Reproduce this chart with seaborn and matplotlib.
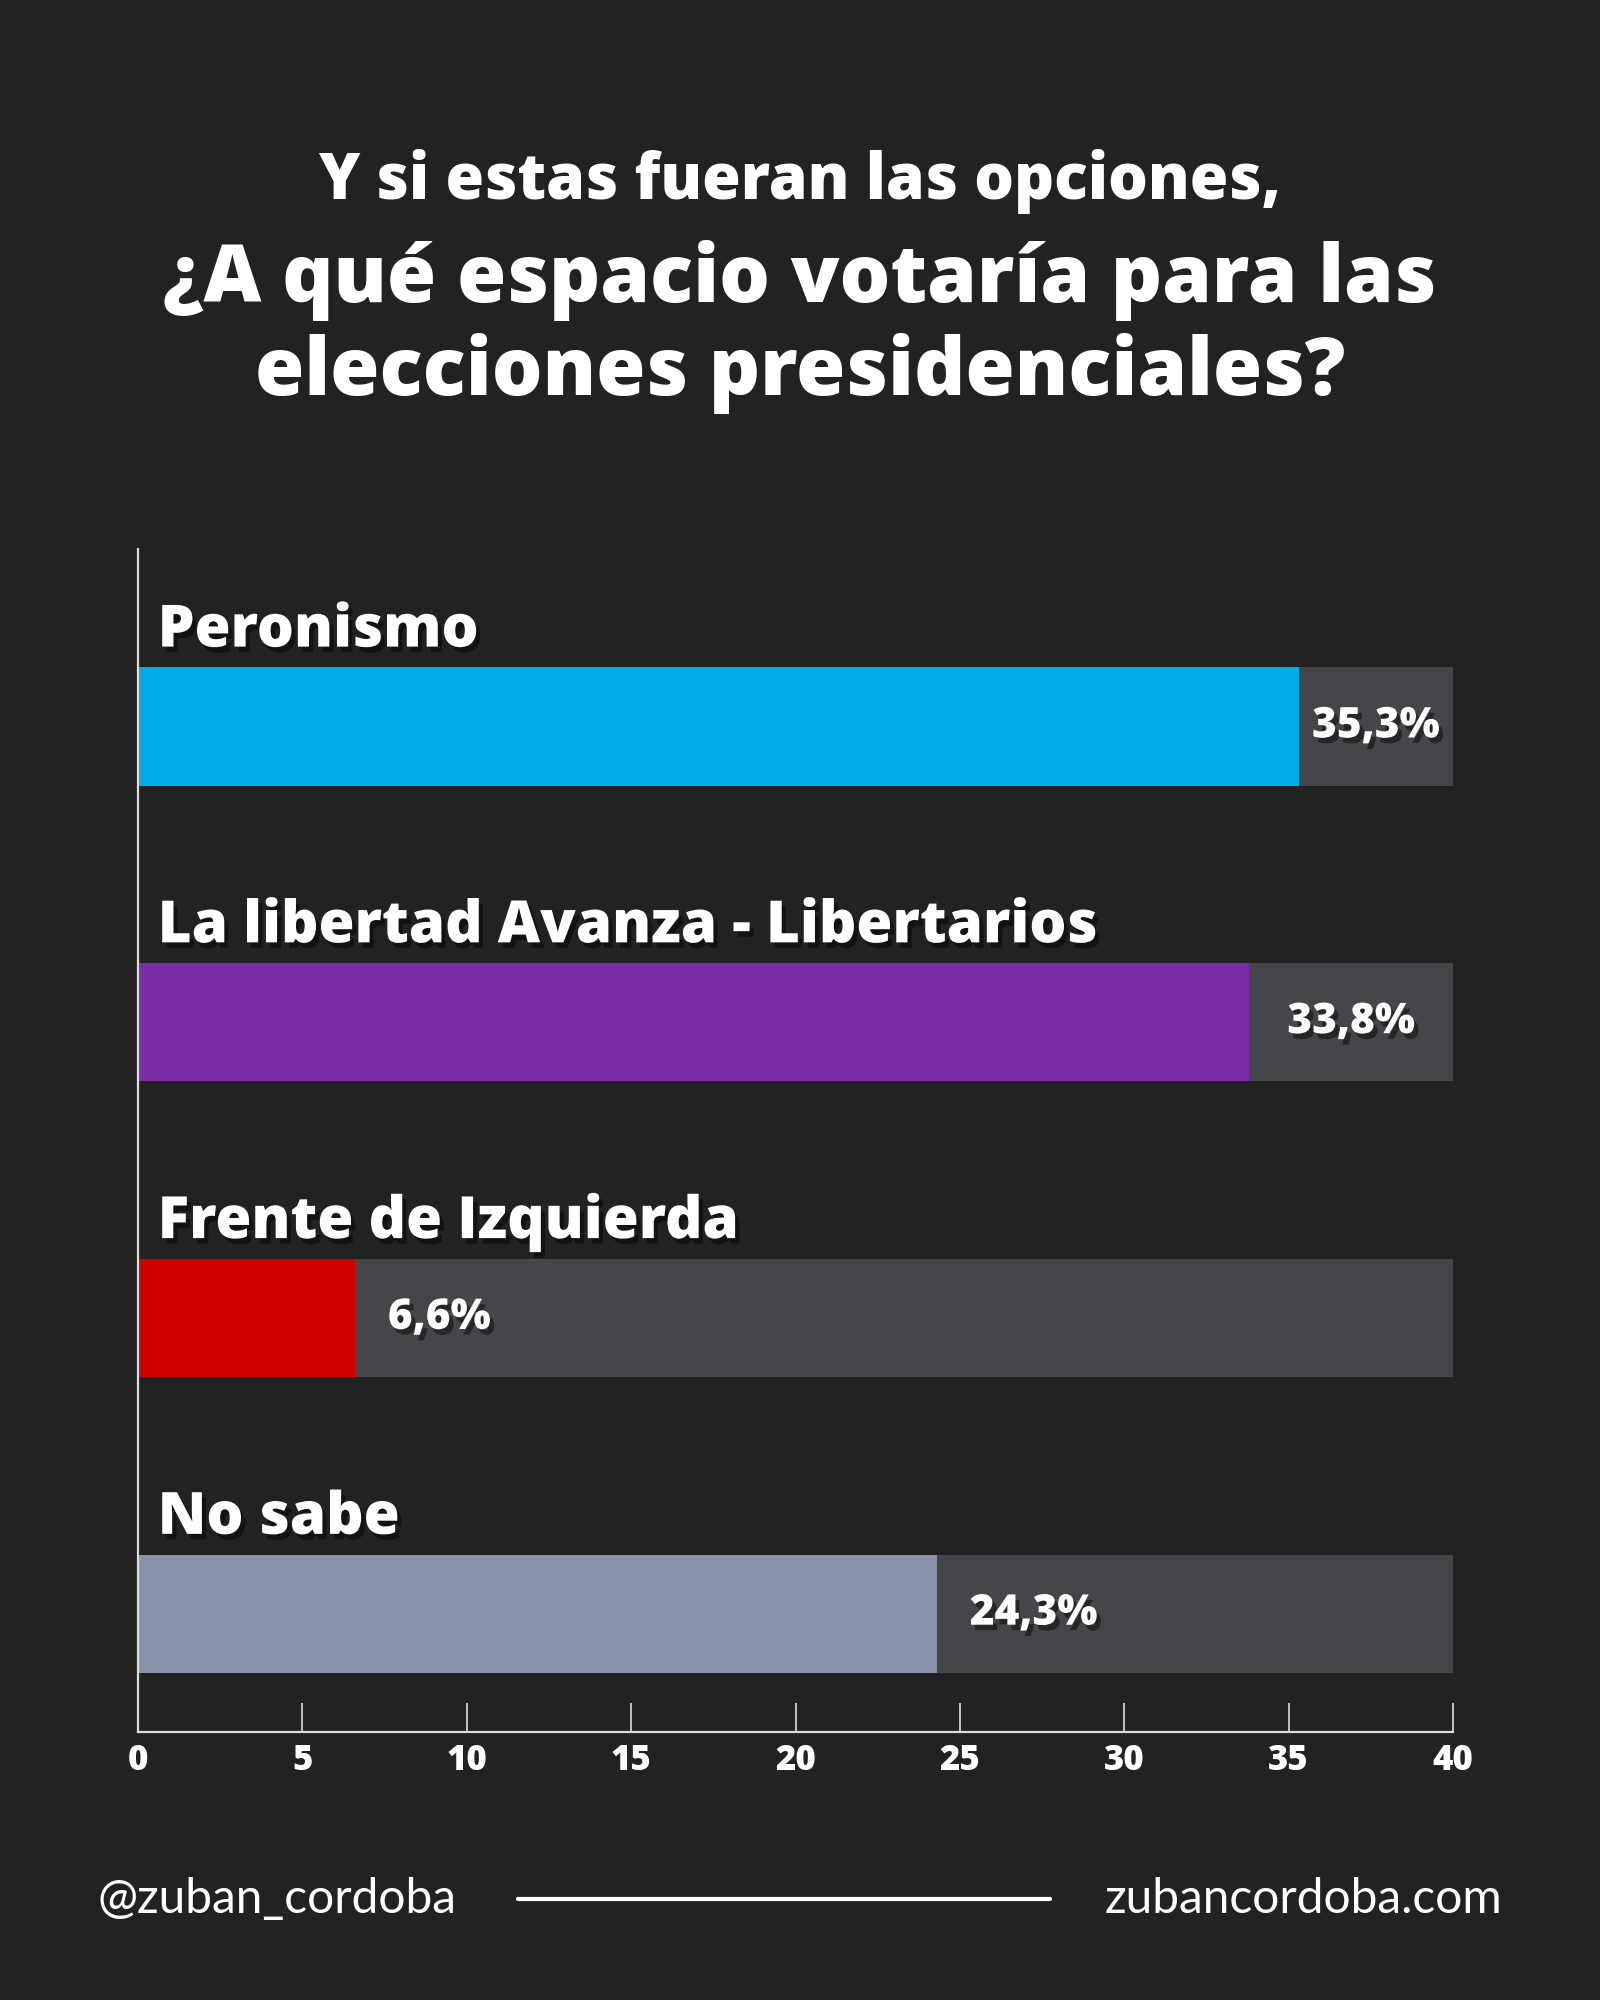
import matplotlib
matplotlib.use("Agg")
import matplotlib.pyplot as plt
import matplotlib.patheffects as pe
import seaborn as sns
import pandas as pd

categories = ["Peronismo", "La libertad Avanza - Libertarios", "Frente de Izquierda", "No sabe"]
values = [35.3, 33.8, 6.6, 24.3]
value_labels = ["35,3%", "33,8%", "6,6%", "24,3%"]
bar_colors = ["#00ADE6", "#7A2BA6", "#D10000", "#8A93A9"]
axis_max = 40
xticks = [0, 5, 10, 15, 20, 25, 30, 35, 40]
title_line1 = "Y si estas fueran las opciones,"
title_line2 = "¿A qué espacio votaría para las\nelecciones presidenciales?"
footer_left = "@zuban_cordoba"
footer_right = "zubancordoba.com"

BG = "#222222"
TRACK = "#45464A"
HEAD = ["Open Sans", "DejaVu Sans"]
BODY = ["Lato", "DejaVu Sans"]
HEAVY = 800

sns.set_theme(style="white")
plt.rcParams["font.family"] = HEAD

df = pd.DataFrame({"cat": categories, "val": values, "full": [axis_max] * len(categories)})

fig = plt.figure(figsize=(16, 20), dpi=100, facecolor=BG)
ax = fig.add_axes([0.08625, 0.134, 0.8219, 0.5915])
ax.set_facecolor(BG)

sns.barplot(data=df, x="full", y="cat", orient="h", color=TRACK, width=0.4,
            saturation=1, linewidth=0, ax=ax)
sns.barplot(data=df, x="val", y="cat", orient="h", hue="cat", palette=bar_colors,
            width=0.4, saturation=1, legend=False, linewidth=0, ax=ax)

ax.set_xlim(0, axis_max)
ax.set_ylim(len(categories) - 0.6, -0.6)
ax.set_xlabel("")
ax.set_ylabel("")
ax.set_yticks([])
ax.set_xticks(xticks)
ax.set_xticklabels([str(t) for t in xticks])

for s in ["top", "right"]:
    ax.spines[s].set_visible(False)
for s in ["left", "bottom"]:
    ax.spines[s].set_color("#DDDDDD")
    ax.spines[s].set_linewidth(1.6)
ax.tick_params(axis="x", direction="in", length=21, width=1.2, color="#DDDDDD",
               labelcolor="white", labelsize=25, pad=8)
for lbl in ax.get_xticklabels():
    lbl.set_fontweight(HEAVY)
ax.tick_params(axis="x", bottom=True)

shadow = [pe.withSimplePatchShadow(offset=(3, -4), shadow_rgbFace="black", alpha=0.45)]

for i, (cat, v, lab) in enumerate(zip(categories, values, value_labels)):
    ax.text(0.6, i - 0.27, cat, ha="left", va="baseline", color="white",
            fontsize=42, fontweight=HEAVY, path_effects=shadow)
    remainder = axis_max - v
    if remainder < 8:
        x = v + remainder / 2
        ha = "center"
    else:
        x = v + 1.0
        ha = "left"
    ax.text(x, i, lab, ha=ha, va="center", color="white", fontsize=30.5,
            fontweight=HEAVY, path_effects=shadow)

fig.text(0.5, 0.9095, title_line1, ha="center", va="center", color="white",
         fontsize=45, fontweight=HEAVY)
fig.text(0.5, 0.8365, title_line2, ha="center", va="center", color="white",
         fontsize=57.5, fontweight=HEAVY, linespacing=1.18)

fig.text(0.061, 0.0505, footer_left, ha="left", va="center", color="white",
         fontsize=34.5, family=BODY)
fig.text(0.939, 0.0505, footer_right, ha="right", va="center", color="white",
         fontsize=34.5, family=BODY)
fig.add_artist(plt.Line2D([0.324, 0.656], [0.0505, 0.0505], color="white", linewidth=3,
                          transform=fig.transFigure))

fig.savefig("out.png", dpi=100, facecolor=BG)
